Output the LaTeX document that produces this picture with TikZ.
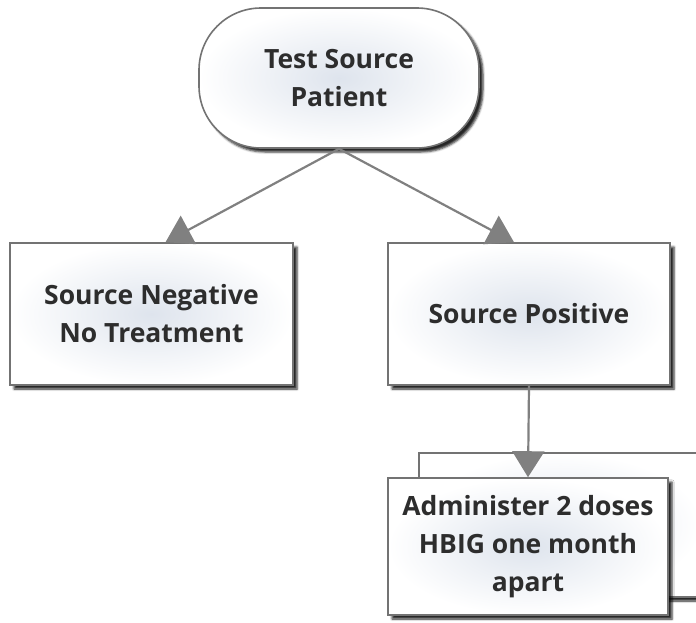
\documentclass[tikz,border=0pt]{standalone}
\usepackage{fontspec}
\setmainfont{Open Sans}
\usetikzlibrary{arrows.meta,shadows.blur}
\definecolor{edgegray}{RGB}{115,115,115}
\definecolor{arrowgray}{RGB}{128,128,128}
\definecolor{textgray}{RGB}{45,45,45}
\definecolor{innerblue}{RGB}{222,228,237}
\tikzset{
  boxstyle/.style={draw=edgegray, line width=1.6pt, align=center,
    shading=radial, inner color=innerblue, outer color=white,
    blur shadow={shadow xshift=4pt, shadow yshift=-4pt, shadow blur steps=4, shadow opacity=85},
    font=\fontsize{26.5}{38}\selectfont\bfseries, text=textgray, inner sep=0pt},
  conn/.style={draw=arrowgray, line width=2.2pt, -{Triangle[width=32pt,length=26pt]}, fill=arrowgray}
}
\begin{document}
\begin{tikzpicture}[x=1pt,y=-1pt]
\useasboundingbox (0,0) rectangle (696,622);
\node[boxstyle, rounded corners=62pt, minimum width=280pt, minimum height=140pt] (top) at (339,78) {Test Source\\Patient};
\node[boxstyle, minimum width=283pt, minimum height=142pt] (neg) at (151.5,314) {Source Negative\\No Treatment};
\node[boxstyle, minimum width=282pt, minimum height=142pt] (pos) at (529,314) {Source Positive};
\node[boxstyle, minimum width=282pt, minimum height=144pt] (back) at (560,525) {};
\node[boxstyle, minimum width=280pt, minimum height=137pt] (adm) at (528,546.5) {Administer 2 doses\\HBIG one month\\apart};
\draw[conn] (top.south) -- ([xshift=14pt]neg.north);
\draw[conn] (top.south) -- ([xshift=-15pt]pos.north);
\draw[conn] (pos.south) -- (adm.north);
\end{tikzpicture}
\end{document}
